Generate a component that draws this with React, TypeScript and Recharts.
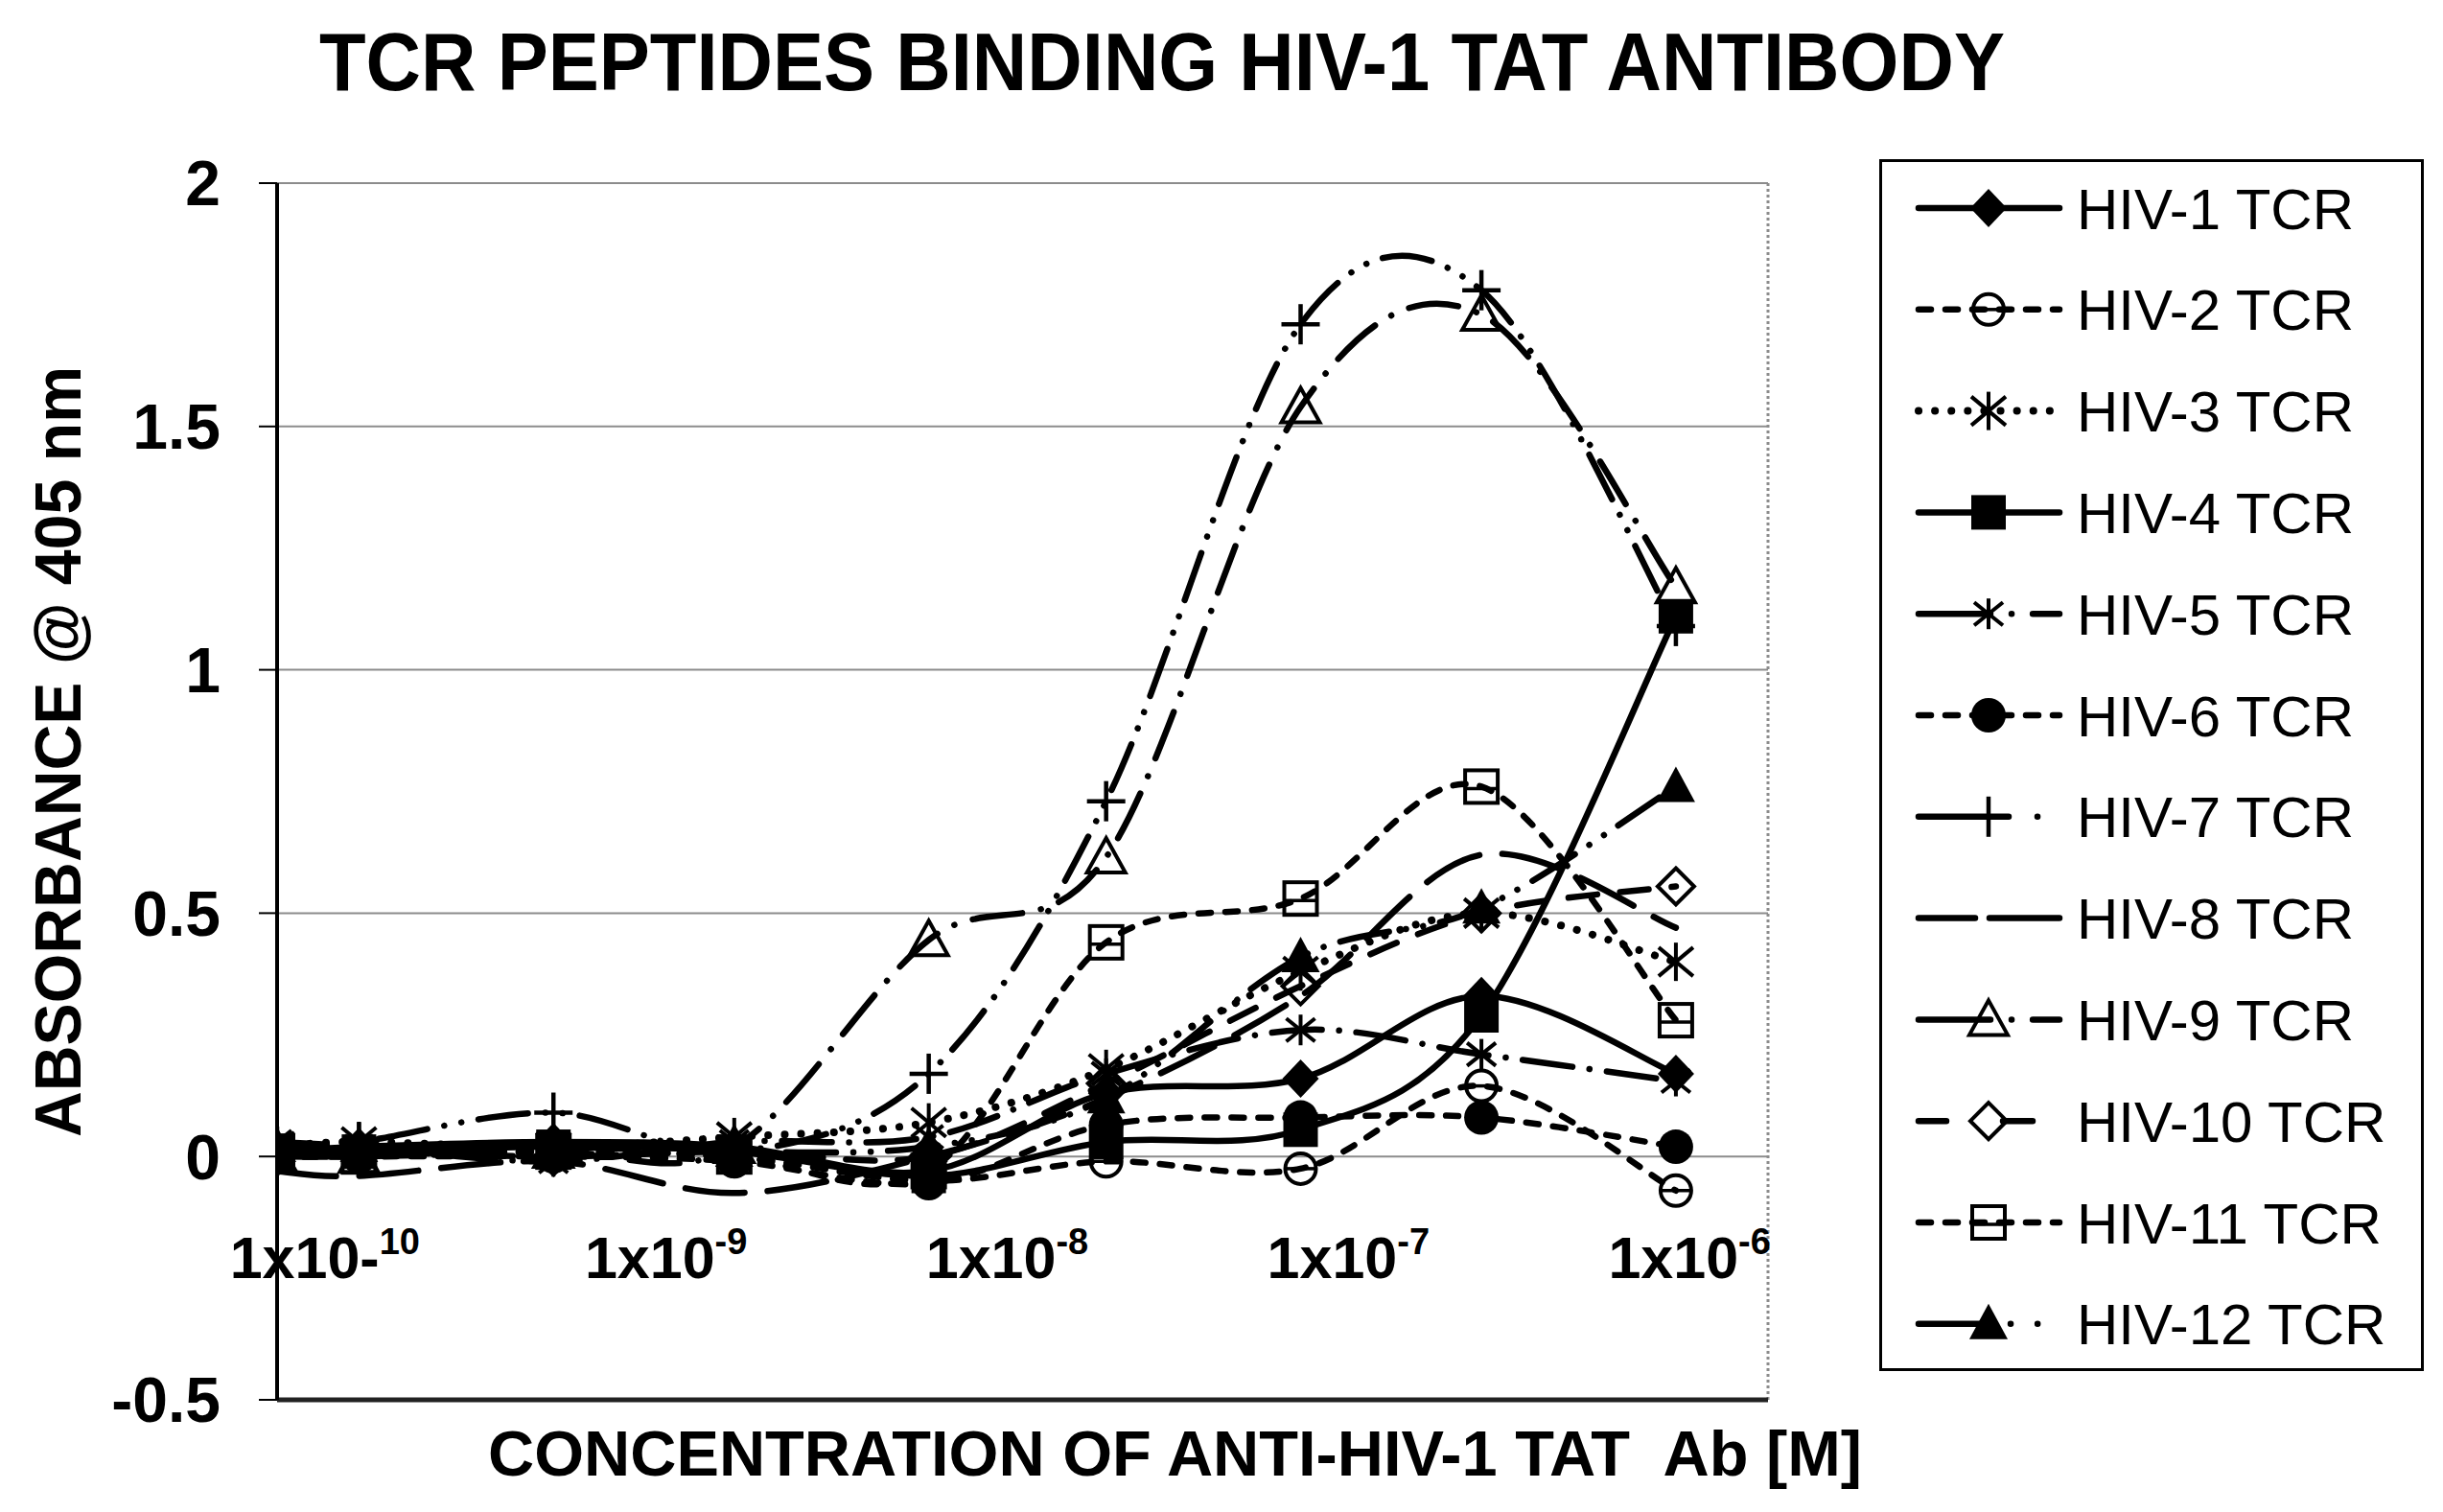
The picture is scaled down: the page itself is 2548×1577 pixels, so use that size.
import React from 'react';
import { LineChart, Line, XAxis, YAxis, CartesianGrid, Legend, ReferenceLine } from 'recharts';

// ---------- data ----------
// log10 of antibody concentration [M] at each dilution point
const concentrationLog = [-10.14, -9.9, -9.33, -8.8, -8.23, -7.71, -7.14, -6.61, -6.04];
const xTicks = [-10, -9, -8, -7, -6];
const yTicks = [-0.5, 0, 0.5, 1, 1.5, 2];

const hiv1 = [0.01, 0.02, 0.03, 0.02, -0.03, 0.13, 0.16, 0.33, 0.17];
const hiv2 = [0.0, 0.0, 0.01, 0.0, -0.05, -0.01, -0.025, 0.145, -0.07];
const hiv3 = [0.02, 0.03, 0.02, 0.04, 0.07, 0.18, 0.38, 0.5, 0.4];
const hiv4 = [0.01, 0.01, 0.02, 0.01, -0.04, 0.03, 0.055, 0.29, 1.11];
const hiv5 = [0.03, 0.02, -0.01, 0.03, 0.04, 0.17, 0.26, 0.21, 0.155];
const hiv6 = [0.0, 0.0, 0.0, -0.01, -0.055, 0.065, 0.08, 0.08, 0.02];
const hiv7 = [0.02, 0.03, 0.09, 0.01, 0.17, 0.73, 1.71, 1.78, 1.09];
const hiv8 = [-0.03, -0.04, -0.01, -0.075, 0.0, 0.12, 0.33, 0.62, 0.47];
const hiv9 = [0.0, 0.0, 0.01, 0.02, 0.445, 0.615, 1.54, 1.73, 1.17];
const hiv10 = [0.0, 0.01, 0.0, 0.01, 0.0, 0.15, 0.35, 0.5, 0.555];
const hiv11 = [0.01, 0.0, 0.01, 0.0, -0.03, 0.44, 0.53, 0.76, 0.28];
const hiv12 = [0.02, 0.02, 0.02, 0.01, 0.02, 0.12, 0.41, 0.51, 0.76];

const seriesNames = [
  'HIV-1 TCR', 'HIV-2 TCR', 'HIV-3 TCR', 'HIV-4 TCR', 'HIV-5 TCR', 'HIV-6 TCR',
  'HIV-7 TCR', 'HIV-8 TCR', 'HIV-9 TCR', 'HIV-10 TCR', 'HIV-11 TCR', 'HIV-12 TCR',
];
const seriesValues = [hiv1, hiv2, hiv3, hiv4, hiv5, hiv6, hiv7, hiv8, hiv9, hiv10, hiv11, hiv12];

// ---------- styles ----------
const seriesStyles = [
  { dash: undefined, legendDash: undefined, marker: 'diamond', width: 6.5 },
  { dash: '13 15', legendDash: '13 15', marker: 'circleBar', width: 6.5 },
  { dash: '0.1 17', legendDash: '0.1 17', marker: 'asterisk', width: 8 },
  { dash: undefined, legendDash: undefined, marker: 'square', width: 6.5 },
  { dash: '52 18 0.1 18', legendDash: '75 22 0.1 22 60', marker: 'star', width: 6.5 },
  { dash: '13 15', legendDash: '13 15', marker: 'circle', width: 6.5 },
  { dash: '52 18 0.1 18 0.1 18', legendDash: '94 30 0.1 60', marker: 'plus', width: 6.5 },
  { dash: '62 24', legendDash: '59 15 100', marker: 'none', width: 6.5 },
  { dash: '52 20 0.1 20', legendDash: '75 22 0.1 22 60', marker: 'triangleOpen', width: 6.5 },
  { dash: '30 24', legendDash: '29 59 31 100', marker: 'diamondOpen', width: 6.5 },
  { dash: '13 15', legendDash: '13 15', marker: 'squareBar', width: 6.5 },
  { dash: '52 18 0.1 18 0.1 18', legendDash: '80 16 0.1 28 0.1 60', marker: 'triangle', width: 6.5 },
];

const FONT = '"Liberation Sans", Arial, Helvetica, sans-serif';
const INK = '#000';

const chartData = concentrationLog.map((x, i) => {
  const row: Record<string, number> = { x };
  seriesValues.forEach((vals, s) => {
    row['s' + s] = vals[i];
  });
  return row;
});

// Excel-like smoothing (uniform Catmull-Rom as cubic Bezier)
function catmullRom(context: any) {
  let pts: number[][] = [];
  return {
    areaStart() {},
    areaEnd() {},
    lineStart() {
      pts = [];
    },
    point(x: number, y: number) {
      pts.push([+x, +y]);
    },
    lineEnd() {
      const n = pts.length;
      if (!n) return;
      context.moveTo(pts[0][0], pts[0][1]);
      for (let i = 0; i < n - 1; i++) {
        const p0 = pts[i === 0 ? 0 : i - 1];
        const p1 = pts[i];
        const p2 = pts[i + 1];
        const p3 = pts[i + 2 < n ? i + 2 : n - 1];
        context.bezierCurveTo(
          p1[0] + (p2[0] - p0[0]) / 6,
          p1[1] + (p2[1] - p0[1]) / 6,
          p2[0] - (p3[0] - p1[0]) / 6,
          p2[1] - (p3[1] - p1[1]) / 6,
          p2[0],
          p2[1],
        );
      }
    },
  };
}

function Marker({ shape, cx, cy }: { shape: string; cx: number; cy: number }) {
  switch (shape) {
    case 'diamond':
      return <polygon points={`${cx},${cy - 20} ${cx + 19},${cy} ${cx},${cy + 20} ${cx - 19},${cy}`} fill={INK} />;
    case 'diamondOpen':
      return (
        <polygon
          points={`${cx},${cy - 19} ${cx + 19},${cy} ${cx},${cy + 19} ${cx - 19},${cy}`}
          fill="none"
          stroke={INK}
          strokeWidth={4}
        />
      );
    case 'circleBar':
      return (
        <g>
          <circle cx={cx} cy={cy} r={16} fill="none" stroke={INK} strokeWidth={4} />
          <line x1={cx - 15} x2={cx + 15} y1={cy} y2={cy} stroke={INK} strokeWidth={3.5} />
        </g>
      );
    case 'circle':
      return <circle cx={cx} cy={cy} r={18} fill={INK} />;
    case 'square':
      return <rect x={cx - 18} y={cy - 18} width={36} height={36} fill={INK} />;
    case 'squareBar':
      return (
        <g>
          <rect x={cx - 17} y={cy - 17} width={34} height={34} fill="none" stroke={INK} strokeWidth={4} />
          <line x1={cx - 16} x2={cx + 16} y1={cy + 2} y2={cy + 2} stroke={INK} strokeWidth={3.5} />
        </g>
      );
    case 'asterisk':
      return (
        <g stroke={INK} strokeWidth={4}>
          <line x1={cx} x2={cx} y1={cy - 20} y2={cy + 20} />
          <line x1={cx - 18} x2={cx + 18} y1={cy - 15} y2={cy + 15} />
          <line x1={cx - 18} x2={cx + 18} y1={cy + 15} y2={cy - 15} />
        </g>
      );
    case 'star':
      return (
        <g stroke={INK} strokeWidth={4}>
          <line x1={cx} x2={cx} y1={cy - 16} y2={cy + 16} />
          <line x1={cx - 15} x2={cx + 15} y1={cy - 12} y2={cy + 12} />
          <line x1={cx - 15} x2={cx + 15} y1={cy + 12} y2={cy - 12} />
        </g>
      );
    case 'plus':
      return (
        <g stroke={INK} strokeWidth={4.5}>
          <line x1={cx - 20} x2={cx + 20} y1={cy} y2={cy} />
          <line x1={cx} x2={cx} y1={cy - 21} y2={cy + 21} />
        </g>
      );
    case 'triangleOpen':
      return (
        <polygon
          points={`${cx},${cy - 20} ${cx + 20},${cy + 16} ${cx - 20},${cy + 16}`}
          fill="none"
          stroke={INK}
          strokeWidth={4}
        />
      );
    case 'triangle':
      return <polygon points={`${cx},${cy - 21} ${cx + 20},${cy + 16} ${cx - 20},${cy + 16}`} fill={INK} />;
    default:
      return <g />;
  }
}

const XTick = (props: any) => {
  const { x, y, payload } = props;
  const e = payload.value as number;
  const base = e === -10 ? '1x10-' : '1x10';
  const sup = e === -10 ? '10' : String(e);
  return (
    <text x={x} y={y - 127} textAnchor="middle" fontFamily={FONT} fontWeight="bold" fontSize={61} fill={INK}>
      <tspan>{base}</tspan>
      <tspan dy={-25} fontSize={38}>
        {sup}
      </tspan>
    </text>
  );
};

const YTitle = () => (
  <text
    x={76}
    y={1178}
    transform="rotate(-90, 76, 1178)"
    fontFamily={FONT}
    fontWeight="bold"
    fontSize={68}
    fill={INK}
    textLength={804}
    lengthAdjust="spacingAndGlyphs"
  >
    ABSORBANCE @ 405 nm
  </text>
);

const XTitle = () => (
  <text
    x={501}
    y={1531}
    fontFamily={FONT}
    fontWeight="bold"
    fontSize={66}
    fill={INK}
    textLength={1433}
    lengthAdjust="spacingAndGlyphs"
    style={{ whiteSpace: 'pre' }}
  >
    {'CONCENTRATION OF ANTI-HIV-1 TAT  Ab [M]'}
  </text>
);

const LEG_W = 568;
const LEG_H = 1264;

const LegendBox = () => (
  <svg width={LEG_W} height={LEG_H} style={{ display: 'block' }}>
    <rect x={1.5} y={1.5} width={LEG_W - 3} height={LEG_H - 3} fill="#fff" stroke={INK} strokeWidth={3} />
    {seriesNames.map((name, i) => {
      const st = seriesStyles[i];
      const cy = 51 + i * 105.8;
      return (
        <g key={name}>
          <line
            x1={41}
            x2={188}
            y1={cy}
            y2={cy}
            stroke={INK}
            strokeWidth={st.width}
            strokeDasharray={st.legendDash}
            strokeLinecap="round"
          />
          <Marker shape={st.marker} cx={114} cy={cy} />
          <text x={206} y={cy} dy="0.36em" fontFamily={FONT} fontSize={60} fill={INK}>
            {name}
          </text>
        </g>
      );
    })}
  </svg>
);

export default function App() {
  return (
    <div style={{ position: 'relative', width: 2532, height: 1561, background: '#fff' }}>
      <LineChart
        width={2532}
        height={1561}
        data={chartData}
        margin={{ top: 183, right: 128, bottom: 0, left: 0 }}
      >
        <CartesianGrid vertical={false} stroke="#8c8c8c" strokeWidth={2} />
        <ReferenceLine x={-5.77} stroke="#8c8c8c" strokeWidth={3} strokeDasharray="3 3" />
        <XAxis
          dataKey="x"
          type="number"
          domain={[-10.14, -5.77]}
          ticks={xTicks}
          interval={0}
          allowDataOverflow
          height={109}
          tickLine={false}
          tickSize={0}
          tickMargin={0}
          axisLine={{ stroke: '#222', strokeWidth: 5 }}
          tick={<XTick />}
          label={XTitle}
        />
        <YAxis
          type="number"
          domain={[-0.5, 2]}
          ticks={yTicks}
          interval={0}
          width={281}
          tickSize={19}
          tickMargin={40}
          tickLine={{ stroke: INK, strokeWidth: 2 }}
          axisLine={{ stroke: INK, strokeWidth: 4 }}
          tick={{ fontFamily: FONT, fontWeight: 'bold', fontSize: 66, fill: INK }}
          label={YTitle}
        />
        <Legend
          layout="vertical"
          align="right"
          verticalAlign="top"
          width={LEG_W}
          height={LEG_H}
          wrapperStyle={{ left: 1952, top: 158, width: LEG_W, height: LEG_H }}
          content={() => <LegendBox />}
        />
        {seriesNames.map((name, s) => {
          const st = seriesStyles[s];
          return (
            <Line
              key={name}
              name={name}
              dataKey={'s' + s}
              type={catmullRom as any}
              stroke={INK}
              strokeWidth={st.width}
              strokeDasharray={st.dash}
              strokeLinecap="round"
              isAnimationActive={false}
              dot={(p: any) => <Marker key={`${name}-${p.index}`} shape={st.marker} cx={p.cx} cy={p.cy} />}
              activeDot={false}
              legendType="none"
            />
          );
        })}
      </LineChart>
      <svg
        width={2532}
        height={140}
        style={{ position: 'absolute', left: 0, top: 0, pointerEvents: 'none' }}
      >
        <text
          x={325}
          y={86}
          fontFamily={FONT}
          fontWeight="bold"
          fontSize={86}
          fill={INK}
          textLength={1758}
          lengthAdjust="spacingAndGlyphs"
        >
          TCR PEPTIDES BINDING HIV-1 TAT ANTIBODY
        </text>
      </svg>
    </div>
  );
}
